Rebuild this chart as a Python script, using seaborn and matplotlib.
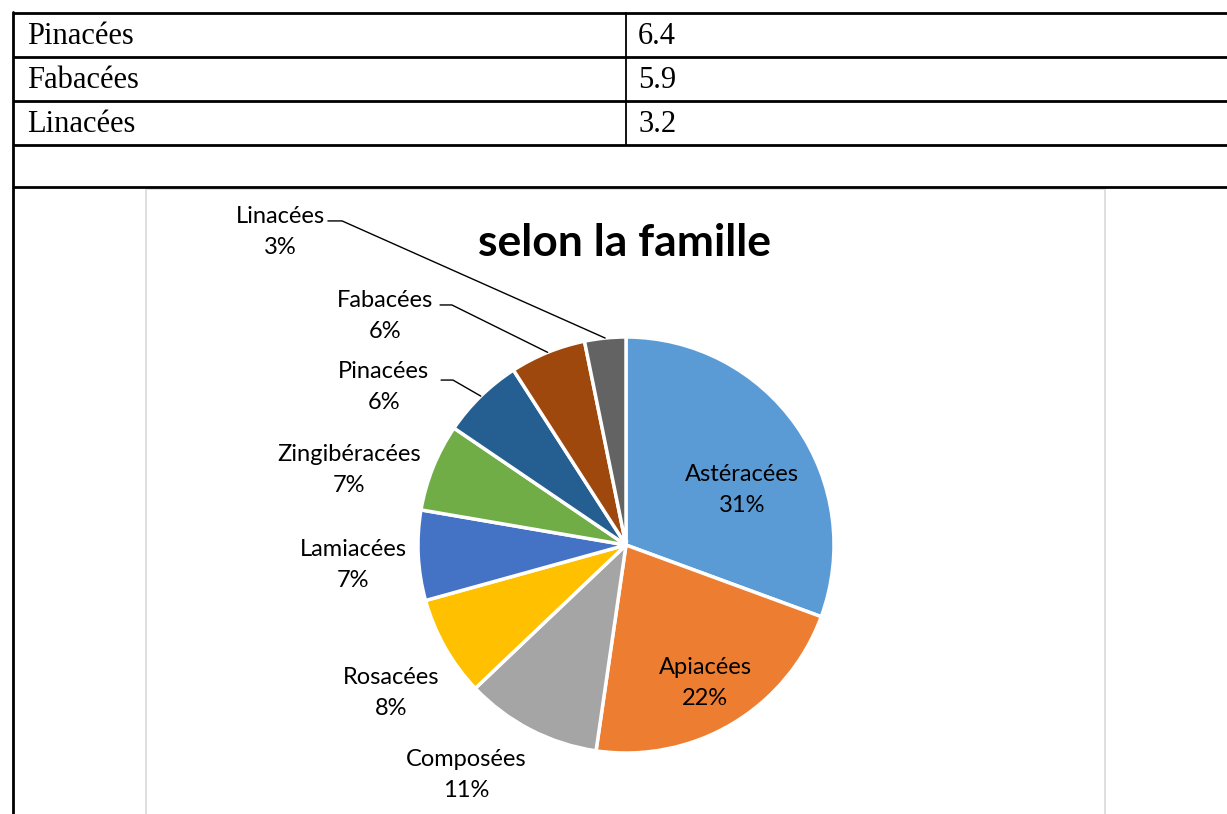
import matplotlib.pyplot as plt
import seaborn as sns
import numpy as np

# ==========================================
# Data
# ==========================================
table_families = ["Pinacées", "Fabacées", "Linacées"]
table_values = ["6.4", "5.9", "3.2"]

families = ["Astéracées", "Apiacées", "Composées", "Rosacées", "Lamiacées",
            "Zingibéracées", "Pinacées", "Fabacées", "Linacées"]
shares = [30.6, 21.7, 10.6, 7.8, 7.0, 6.8, 6.4, 5.9, 3.2]
colors = ["#5B9BD5", "#ED7D31", "#A5A5A5", "#FFC000", "#4472C4",
          "#70AD47", "#255E91", "#9E480E", "#636363"]
title = "selon la famille"

# label centres (pie units, radius = 1) and leader elbows
label_pos = [(0.558, 0.265), (0.38, -0.663), (-0.769, -1.106), (-1.13, -0.711),
             (-1.3125, -0.096), (-1.332, 0.36), (-1.165, 0.76), (-1.16, 1.101),
             (-1.66, 1.505)]
leaders = {6: [(-0.889, 0.793), (-0.832, 0.793)],
           7: [(-0.894, 1.154), (-0.837, 1.154)],
           8: [(-1.433, 1.558), (-1.365, 1.558)]}

# ==========================================
# Setup
# ==========================================
sns.set_theme(style="white")
plt.rcParams["font.family"] = ["Lato", "DejaVu Sans"]
plt.rcParams["text.color"] = "black"

W, H = 1227, 814
fig = plt.figure(figsize=(W / 100, H / 100), dpi=100)

# page / table layer in pixel coords
bg = fig.add_axes([0, 0, 1, 1])
bg.set_xlim(0, W)
bg.set_ylim(H, 0)
bg.set_axis_off()

for y in [13, 57, 101, 145, 187]:
    bg.plot([13, W + 5], [y, y], color="black", lw=2, solid_capstyle="butt")
bg.plot([13, 13], [12, H + 5], color="black", lw=2)
bg.plot([626, 626], [13, 145], color="black", lw=1.3)

for i, (fam, val) in enumerate(zip(table_families, table_values)):
    yc = 37 + i * 44
    bg.text(27, yc, fam, fontsize=22, va="center", ha="left",
            family=["Liberation Serif", "DejaVu Serif"])
    bg.text(638, yc, val, fontsize=22, va="center", ha="left",
            family=["Liberation Serif", "DejaVu Serif"])

# chart frame
bg.add_patch(plt.Rectangle((146, 189), 959, 640, fill=False,
                           edgecolor="#D9D9D9", lw=1.2))
bg.text(624, 243, title, fontsize=32, fontweight="bold", ha="center", va="center")

# ==========================================
# Pie
# ==========================================
R = 208
cx, cy = 626, 545
half = 1.25 * R
ax = fig.add_axes([(cx - half) / W, (H - cy - half) / H, 2 * half / W, 2 * half / H])
ax.set_axis_off()

wedges, _ = ax.pie(shares, colors=colors, startangle=90, counterclock=False,
                   radius=1, wedgeprops=dict(edgecolor="white", linewidth=2.5))
ax.set_xlim(-1.25, 1.25)
ax.set_ylim(-1.25, 1.25)

total = sum(shares)
for i, (name, val) in enumerate(zip(families, shares)):
    pct = val / total * 100
    x, y = label_pos[i]
    ax.text(x, y, f"{name}\n{pct:.0f}%", ha="center", va="center",
            fontsize=17, linespacing=1.62, color="black")
    if i in leaders:
        w = wedges[i]
        mid = np.deg2rad((w.theta1 + w.theta2) / 2)
        pts = [(np.cos(mid), np.sin(mid)), leaders[i][1], leaders[i][0]]
        xs, ys = zip(*pts)
        ax.plot(xs, ys, color="black", lw=1, clip_on=False)

fig.savefig("out.png", dpi=100)
